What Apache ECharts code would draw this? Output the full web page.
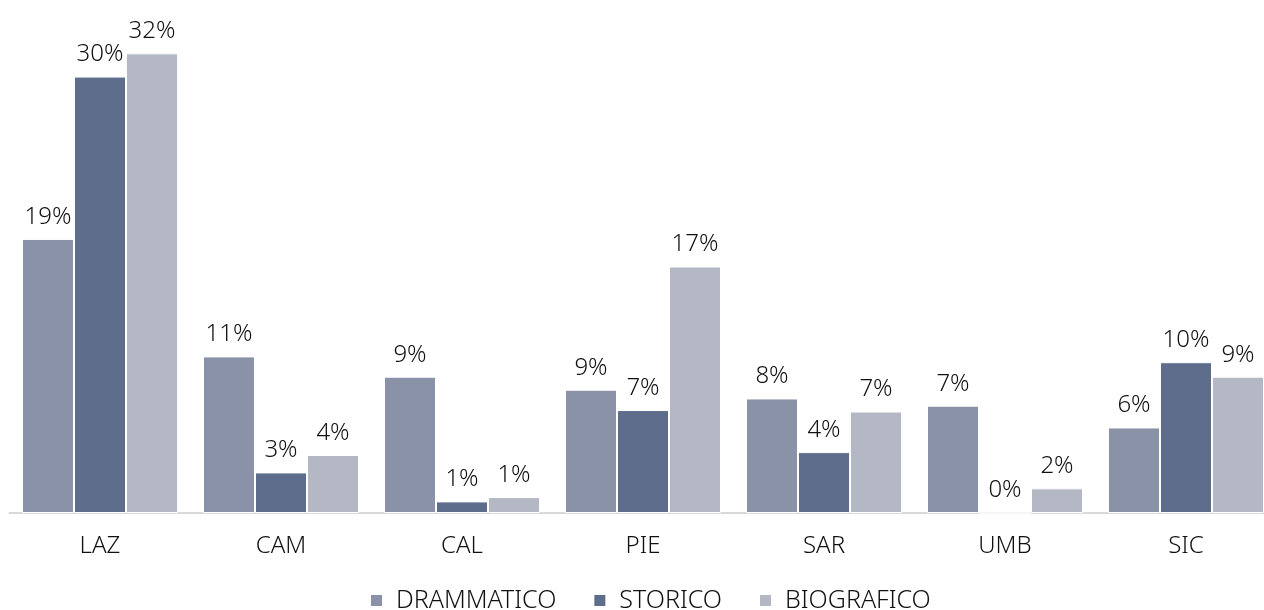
<!DOCTYPE html>
<html>
<head>
<meta charset="utf-8">
<script src="https://cdn.jsdelivr.net/npm/echarts@6/dist/echarts.min.js"></script>
<style>
html,body{margin:0;padding:0;background:#fff;}
#chart{width:1264px;height:610px;}
</style>
</head>
<body>
<div id="chart"></div>
<script>
var categories = ['LAZ', 'CAM', 'CAL', 'PIE', 'SAR', 'UMB', 'SIC'];
var drammatico = [18.9, 10.8, 9.4, 8.5, 7.9, 7.4, 5.9];
var storico = [30.1, 2.8, 0.8, 7.1, 4.2, 0, 10.4];
var biografico = [31.7, 4.0, 1.1, 17.0, 7.0, 1.7, 9.4];
var seriesNames = ['DRAMMATICO', 'STORICO', 'BIOGRAFICO'];
var colors = ['#8a92a7', '#5f6d8c', '#b4b8c4'];

var FONT = "'Century Gothic', 'Noto Sans', sans-serif";
var chart = echarts.init(document.getElementById('chart'), null, {renderer: 'canvas'});
var datasets = [drammatico, storico, biografico];
var series = datasets.map(function (d, i) {
  return {
    name: seriesNames[i],
    type: 'bar',
    data: d,
    barGap: '0%',
    barCategoryGap: '13.8%',
    itemStyle: {color: colors[i], borderColor: '#ffffff', borderWidth: 1},
    label: {
      show: true,
      position: 'top',
      distance: 10,
      color: '#111',
      fontFamily: FONT,
      fontWeight: 300,
      fontSize: 24,
      formatter: function (p) { return Math.round(p.value) + '%'; }
    }
  };
});
chart.setOption({
  animation: false,
  color: colors,
  textStyle: {fontFamily: FONT},
  grid: {left: 9.5, width: 1267, top: 20, bottom: 97, containLabel: false, outerBoundsMode: 'none'},
  xAxis: {
    type: 'category',
    data: categories,
    axisLine: {show: true, lineStyle: {color: '#d9d9d9', width: 2}},
    axisTick: {show: false},
    axisLabel: {color: '#111', fontSize: 24, fontWeight: 300, fontFamily: FONT, margin: 21}
  },
  yAxis: {
    type: 'value',
    min: 0,
    max: 34,
    show: false,
    splitLine: {show: false}
  },
  legend: {
    top: 583,
    left: 364,
    itemWidth: 13,
    itemHeight: 13,
    itemGap: 36,
    icon: 'rect',
    textStyle: {color: '#111', fontSize: 25, fontWeight: 300, fontFamily: FONT, padding: [0, 0, 0, 8]}
  },
  series: series
});
</script>
</body>
</html>
